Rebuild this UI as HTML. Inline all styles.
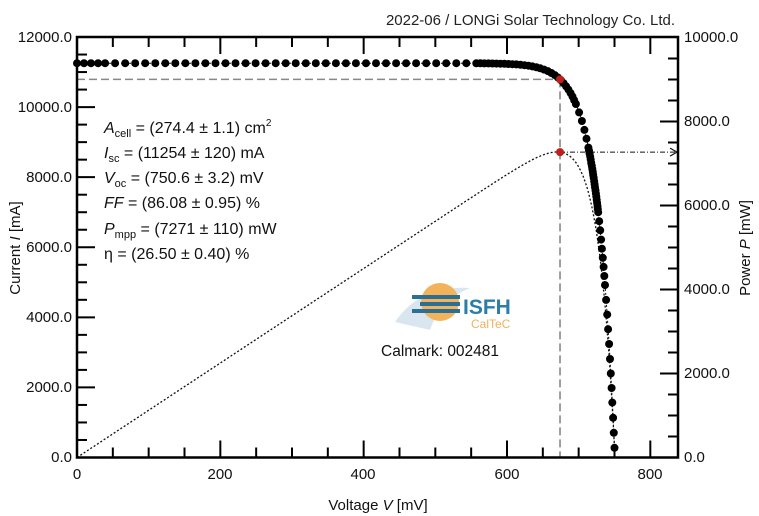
<!DOCTYPE html>
<html><head><meta charset="utf-8"><style>
html,body{margin:0;padding:0;background:#fff;}
svg{display:block;font-family:"Liberation Sans",sans-serif;}
</style></head><body>
<svg id="s" width="759" height="516" viewBox="0 0 759 516" xmlns="http://www.w3.org/2000/svg">
<rect width="759" height="516" fill="#fff"/>
<g id="g"></g>
<text x="675" y="25" font-size="15" text-anchor="end" fill="#222">2022-06 / LONGi Solar Technology Co. Ltd.</text>
<g font-size="15" fill="#111">
<text x="72" y="42" text-anchor="end">12000.0</text>
<text x="72" y="112" text-anchor="end">10000.0</text>
<text x="72" y="182" text-anchor="end">8000.0</text>
<text x="72" y="252" text-anchor="end">6000.0</text>
<text x="72" y="322" text-anchor="end">4000.0</text>
<text x="72" y="392" text-anchor="end">2000.0</text>
<text x="72" y="462" text-anchor="end">0.0</text>
<text x="684" y="42">10000.0</text>
<text x="684" y="126">8000.0</text>
<text x="684" y="210">6000.0</text>
<text x="684" y="294">4000.0</text>
<text x="684" y="378">2000.0</text>
<text x="684" y="462">0.0</text>
<text x="77" y="479" text-anchor="middle">0</text>
<text x="220" y="479" text-anchor="middle">200</text>
<text x="363" y="479" text-anchor="middle">400</text>
<text x="507" y="479" text-anchor="middle">600</text>
<text x="650" y="479" text-anchor="middle">800</text>
<text x="378" y="510" text-anchor="middle">Voltage <tspan font-style="italic">V</tspan> [mV]</text>
<text transform="translate(20,248) rotate(-90)" text-anchor="middle">Current <tspan font-style="italic">I</tspan> [mA]</text>
<text transform="translate(750,248) rotate(-90)" text-anchor="middle">Power <tspan font-style="italic">P</tspan> [mW]</text>
</g>
<g font-size="16" fill="#111">
<text x="104" y="133"><tspan font-style="italic">A</tspan><tspan font-size="11" dy="4">cell</tspan><tspan dy="-4"> = (274.4 ± 1.1) cm</tspan><tspan font-size="10" dy="-7">2</tspan></text>
<text x="104" y="158"><tspan font-style="italic">I</tspan><tspan font-size="11" dy="4">sc</tspan><tspan dy="-4"> = (11254 ± 120) mA</tspan></text>
<text x="104" y="183"><tspan font-style="italic">V</tspan><tspan font-size="11" dy="4">oc</tspan><tspan dy="-4"> = (750.6 ± 3.2) mV</tspan></text>
<text x="104" y="208"><tspan font-style="italic">FF</tspan> = (86.08 ± 0.95) %</text>
<text x="104" y="234"><tspan font-style="italic">P</tspan><tspan font-size="11" dy="4">mpp</tspan><tspan dy="-4"> = (7271 ± 110) mW</tspan></text>
<text x="104" y="259">η = (26.50 ± 0.40) %</text>
</g>
<g>
<path d="M395 322 Q420 285 470 288 Q440 300 430 330 Z" fill="#c9dbe9" opacity="0.7"/>
<circle cx="440" cy="302" r="19" fill="#f2b35a"/>
<rect x="412" y="295" width="48" height="4" fill="#2b6f96"/>
<rect x="420" y="302" width="40" height="4" fill="#2b6f96"/>
<rect x="412" y="309" width="48" height="4" fill="#2b6f96"/>
<text x="463" y="314" font-size="21" font-weight="bold" fill="#2b7ea8">ISFH</text>
<text x="471" y="328" font-size="12" fill="#f0b060">CalTeC</text>
<text x="381" y="356" font-size="15.5" fill="#111">Calmark: 002481</text>
</g>
</svg>
<script>
var X0=77,XR=678,YT=37,YB=457.5,kx=143.33/200,ki=35.04/1000,kp=42/1000;
function px(v){return X0+v*kx}function pyI(i){return YB-i*ki}function pyP(p){return YB-p*kp}
var Isc=11254,Voc=750.6,a=24;
function I(v){return Isc*(1-Math.exp((v-Voc)/a))}
var s='';
var Vm=674,Im=I(Vm),Pm=Vm*Im/1000;
s+='<line x1="'+X0+'" y1="'+pyI(Im)+'" x2="'+px(Vm)+'" y2="'+pyI(Im)+'" stroke="#888" stroke-width="1.6" stroke-dasharray="8,4"/>';
s+='<line x1="'+px(Vm)+'" y1="'+pyI(Im)+'" x2="'+px(Vm)+'" y2="'+YB+'" stroke="#888" stroke-width="1.6" stroke-dasharray="8,4"/>';
s+='<line x1="'+px(Vm)+'" y1="'+pyP(7271)+'" x2="'+(XR-2)+'" y2="'+pyP(7271)+'" stroke="#111" stroke-width="1" stroke-dasharray="5,2,1,2"/>';
s+='<path d="M'+(XR-8)+' '+(pyP(7271)-4)+' L'+(XR-1)+' '+pyP(7271)+' L'+(XR-8)+' '+(pyP(7271)+4)+'" fill="none" stroke="#111" stroke-width="1.2"/>';
var d='M';for(var v=0;v<=Voc;v+=2){var p=v*I(v)/1000;d+=px(v).toFixed(1)+' '+pyP(p*7271/Pm).toFixed(1)+' ';}
s+='<path d="'+d+'" fill="none" stroke="#111" stroke-width="1.3" stroke-dasharray="2,2"/>';
d='M';for(var v=0;v<=Voc;v+=1){d+=px(v).toFixed(1)+' '+pyI(I(v)).toFixed(1)+' ';}
s+='<path d="'+d+'" fill="none" stroke="#111" stroke-width="1" stroke-dasharray="2,2"/>';
var pts=[],last=null,acc=0;
for(var v=0;v<=Voc;v+=0.05){var x=px(v),y=pyI(I(v));if(!last){pts.push([x,y]);last=[x,y];continue;}
acc+=Math.hypot(x-last[0],y-last[1]);last=[x,y];var i=I(v);var st;
if(v<40)st=7;else if(v<=560)st=10;else if(i>10060)st=4;else if(i>8830)st=9;else if(i>6920)st=3;else if(i>4780)st=9;else st=14.5;
if(acc>=st){pts.push([x,y]);acc=0;}}
pts.forEach(function(p){s+='<circle cx="'+p[0].toFixed(1)+'" cy="'+p[1].toFixed(1)+'" r="4" fill="#000"/>';});
s+='<circle cx="'+px(Vm)+'" cy="'+pyI(Im)+'" r="4" fill="#c0201c"/>';
s+='<circle cx="'+px(Vm)+'" cy="'+pyP(7271)+'" r="4" fill="#c0201c"/>';
s+='<rect x="'+X0+'" y="'+YT+'" width="'+(XR-X0)+'" height="'+(YB-YT)+'" fill="none" stroke="#000" stroke-width="2.5"/>';
for(var v=50;v<=800;v+=50){var x=px(v),L=(v%200==0)?17:10;s+='<line x1="'+x+'" y1="'+YT+'" x2="'+x+'" y2="'+(YT+L)+'" stroke="#000" stroke-width="2"/><line x1="'+x+'" y1="'+YB+'" x2="'+x+'" y2="'+(YB-L)+'" stroke="#000" stroke-width="2"/>';}
for(var i=500;i<12000;i+=500){var y=pyI(i),L=(i%2000==0)?18:10;s+='<line x1="'+X0+'" y1="'+y+'" x2="'+(X0+L)+'" y2="'+y+'" stroke="#000" stroke-width="2"/>';}
for(var p=500;p<10000;p+=500){var y=pyP(p),L=(p%2000==0)?18:10;s+='<line x1="'+XR+'" y1="'+y+'" x2="'+(XR-L)+'" y2="'+y+'" stroke="#000" stroke-width="2"/>';}
document.getElementById('g').innerHTML=s;
</script>
</body></html>
